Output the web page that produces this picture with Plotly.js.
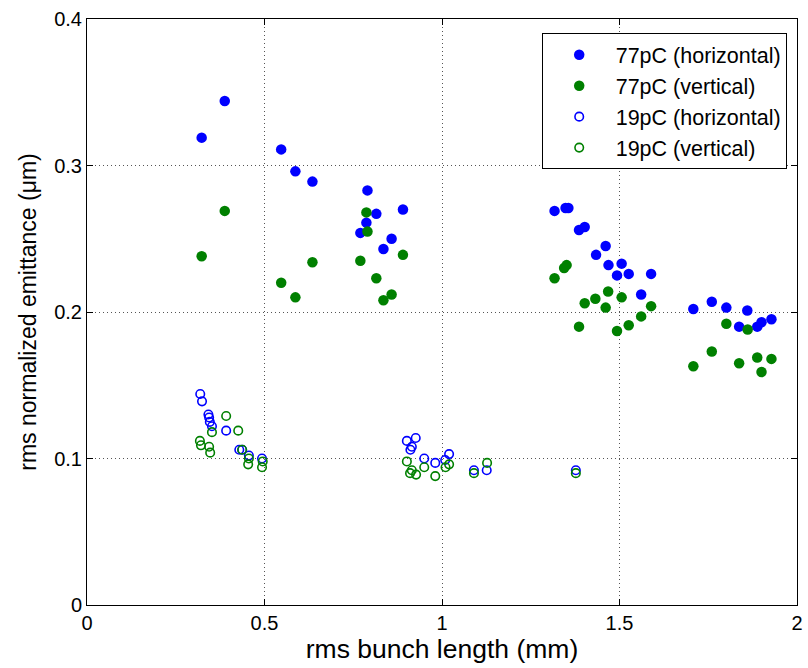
<!DOCTYPE html>
<html>
<head>
<meta charset="utf-8">
<script src="https://cdn.plot.ly/plotly-3.0.1.min.js"></script>
<style>html,body{margin:0;padding:0;background:#fff}#chart{width:808px;height:668px}</style>
</head>
<body>
<div id="chart"></div>
<script>
// 77pC horizontal (filled blue)
const h77_x = [0.323, 0.388, 0.547, 0.587, 0.635, 0.770, 0.787, 0.790, 0.815, 0.835, 0.858, 0.890,
  1.317, 1.348, 1.356, 1.386, 1.402, 1.434, 1.461, 1.469, 1.493, 1.506, 1.526, 1.561, 1.589,
  1.708, 1.760, 1.801, 1.837, 1.860, 1.888, 1.900, 1.928];
const h77_y = [0.319, 0.344, 0.311, 0.296, 0.289, 0.254, 0.261, 0.283, 0.267, 0.243, 0.250, 0.270,
  0.269, 0.271, 0.271, 0.256, 0.258, 0.239, 0.245, 0.232, 0.225, 0.233, 0.226, 0.212, 0.226,
  0.202, 0.207, 0.203, 0.190, 0.201, 0.190, 0.193, 0.195];
// 77pC vertical (filled green)
const v77_x = [0.323, 0.388, 0.547, 0.587, 0.635, 0.770, 0.787, 0.790, 0.815, 0.835, 0.858, 0.890,
  1.317, 1.344, 1.351, 1.386, 1.402, 1.432, 1.461, 1.468, 1.493, 1.506, 1.526, 1.561, 1.589,
  1.708, 1.760, 1.801, 1.837, 1.861, 1.888, 1.900, 1.928];
const v77_y = [0.238, 0.269, 0.220, 0.210, 0.234, 0.235, 0.268, 0.255, 0.223, 0.208, 0.212, 0.239,
  0.223, 0.230, 0.232, 0.190, 0.206, 0.209, 0.203, 0.214, 0.187, 0.210, 0.191, 0.197, 0.204,
  0.163, 0.173, 0.192, 0.165, 0.188, 0.169, 0.159, 0.168];
// 19pC horizontal (open blue)
const h19_x = [0.319, 0.324, 0.342, 0.344, 0.346, 0.352, 0.392, 0.429, 0.437, 0.456, 0.493,
  0.901, 0.911, 0.915, 0.926, 0.950, 0.981, 1.009, 1.020, 1.090, 1.126, 1.377];
const h19_y = [0.144, 0.139, 0.130, 0.128, 0.125, 0.122, 0.119, 0.106, 0.106, 0.102, 0.100,
  0.112, 0.106, 0.108, 0.114, 0.100, 0.097, 0.099, 0.103, 0.092, 0.092, 0.092];
// 19pC vertical (open green)
const v19_x = [0.318, 0.321, 0.344, 0.347, 0.352, 0.392, 0.426, 0.437, 0.454, 0.456, 0.493, 0.495,
  0.901, 0.910, 0.915, 0.927, 0.950, 0.981, 1.010, 1.020, 1.090, 1.127, 1.377];
const v19_y = [0.112, 0.109, 0.108, 0.104, 0.118, 0.129, 0.119, 0.106, 0.096, 0.100, 0.094, 0.098,
  0.098, 0.090, 0.092, 0.089, 0.094, 0.088, 0.094, 0.096, 0.090, 0.097, 0.090];

const names = ['77pC (horizontal)', '77pC (vertical)', '19pC (horizontal)', '19pC (vertical)'];
const xTicks = [0, 0.5, 1, 1.5, 2];
const xTickText = ['0', '0.5', '1', '1.5', '2'];
const yTicks = [0, 0.1, 0.2, 0.3, 0.4];
const yTickText = ['0', '0.1', '0.2', '0.3', '0.4'];

const blue = '#0000ff', green = '#008000';
const traces = [
  {x: h77_x, y: h77_y, name: names[0], mode: 'markers', type: 'scatter',
   marker: {symbol: 'circle', size: 10.5, color: blue, line: {width: 0}}},
  {x: v77_x, y: v77_y, name: names[1], mode: 'markers', type: 'scatter',
   marker: {symbol: 'circle', size: 10.5, color: green, line: {width: 0}}},
  {x: h19_x, y: h19_y, name: names[2], mode: 'markers', type: 'scatter',
   marker: {symbol: 'circle-open', size: 8.5, color: blue, line: {width: 1.6, color: blue}}},
  {x: v19_x, y: v19_y, name: names[3], mode: 'markers', type: 'scatter',
   marker: {symbol: 'circle-open', size: 8.5, color: green, line: {width: 1.6, color: green}}}
];

const axisCommon = {
  showline: true, linecolor: '#000', linewidth: 1, mirror: 'ticks',
  ticks: 'inside', ticklen: 6, tickcolor: '#000', tickwidth: 1,
  showgrid: true, gridcolor: '#555', griddash: '1px,3px', gridwidth: 1,
  zeroline: false,
  tickfont: {family: 'Liberation Sans, Arial, sans-serif', size: 20, color: '#000'}
};

const layout = {
  width: 808, height: 668,
  margin: {l: 87, r: 11, t: 19, b: 63},
  paper_bgcolor: '#fff', plot_bgcolor: '#fff',
  font: {family: 'Liberation Sans, Arial, sans-serif', color: '#000'},
  xaxis: Object.assign({}, axisCommon, {
    range: [0, 2], tickvals: xTicks, ticktext: xTickText,
    title: {text: 'rms bunch length (mm)', font: {size: 26.5, color: '#000'}, standoff: 2}
  }),
  yaxis: Object.assign({}, axisCommon, {
    range: [0, 0.4], tickvals: yTicks, ticktext: yTickText,
    title: {text: 'rms normalized emittance (μm)', font: {size: 23, color: '#000'}, standoff: 11}
  }),
  showlegend: true,
  legend: {
    x: 0.9855, y: 0.9756, xanchor: 'right', yanchor: 'top',
    bgcolor: '#fff', bordercolor: '#000', borderwidth: 1,
    font: {size: 21.5, color: '#000'}, itemsizing: 'trace', itemwidth: 63
  }
};

Plotly.newPlot('chart', traces, layout, {displayModeBar: false, staticPlot: true});
</script>
</body>
</html>
